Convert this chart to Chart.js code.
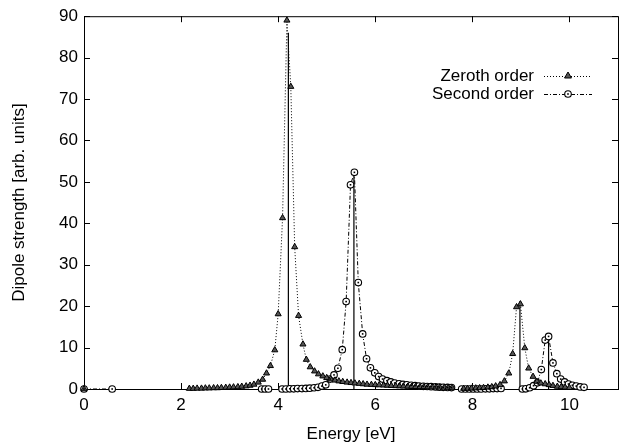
<!DOCTYPE html>
<html>
<head>
<meta charset="utf-8">
<script src="https://cdn.jsdelivr.net/npm/chart.js@4.4.1/dist/chart.umd.min.js"></script>
<style>
body { margin: 0; background: #fff; }
#wrap { width: 624px; height: 446px; }
</style>
</head>
<body>
<div id="wrap"><canvas id="chart"></canvas></div>
<script>
// values, null = break in the curve
const zerothX = [0, null,
    2.17, 2.25, 2.33, 2.42, 2.50, 2.58, 2.67, 2.75, 2.83, 2.92,
    3.00, 3.08, 3.17, 3.25, 3.34, 3.42, 3.50, 3.59, 3.68, 3.76,
    3.84, 3.93, 4.00, 4.09, 4.18, 4.26, 4.34, 4.42, 4.51, 4.58,
    4.66, 4.75, 4.83, 4.92, 5.00, 5.08, 5.17, 5.25, 5.33, 5.42,
    5.50, 5.58, 5.67, 5.75, 5.83, 5.92, 6.00, 6.08, 6.17, 6.25,
    6.33, 6.42, 6.50, 6.58, 6.67, 6.75, 6.83, 6.92, 7.00, 7.08,
    7.17, 7.25, 7.33, 7.42, 7.50, 7.58, null,
    7.82, 7.90, 7.98, 8.07, 8.15, 8.23, 8.32, 8.40, 8.48, 8.57,
    8.66, 8.75, 8.83, 8.91, 8.99, 9.08, 9.16, 9.25, 9.33, 9.41,
    9.50, 9.58, 9.66, 9.75, 9.83, 9.91, 10.0]
const zerothY = [0, null,
    0.1, 0.1, 0.15, 0.15, 0.2, 0.2, 0.25, 0.25, 0.3, 0.35,
    0.4, 0.45, 0.5, 0.6, 0.7, 0.85, 1.1, 1.6, 2.3, 3.8,
    5.6, 9.4, 18.1, 41.3, 89, 73, 34.3, 17.7, 10.8, 7.1,
    5.3, 4.3, 3.6, 3.1, 2.7, 2.4, 2.1, 1.9, 1.75, 1.6,
    1.5, 1.4, 1.3, 1.2, 1.1, 1.05, 1.0, 0.95, 0.9, 0.85,
    0.8, 0.75, 0.7, 0.66, 0.62, 0.58, 0.55, 0.52, 0.5, 0.47,
    0.45, 0.42, 0.4, 0.38, 0.36, 0.34, null,
    0.1, 0.1, 0.15, 0.2, 0.25, 0.3, 0.4, 0.5, 0.7, 1.0,
    1.9, 3.8, 8.5, 19.8, 20.5, 9.9, 5.0, 3.0, 1.8, 1.4,
    1.2, 1.0, 0.8, 0.6, 0.5, 0.4, 0.3]

const secondX = [0, 0.58, null,
    3.66, 3.73, 3.80, null,
    4.08, 4.16, 4.24, 4.32, 4.40, 4.49, 4.57, 4.65, 4.74, 4.82,
    4.90, 4.98, 5.07, 5.15, 5.23, 5.32, 5.40, 5.49, 5.57, 5.65,
    5.74, 5.82, 5.90, 5.99, 6.07, 6.15, 6.24, 6.32, 6.40, 6.49,
    6.57, 6.65, 6.74, 6.82, 6.90, 6.99, 7.07, 7.15, 7.24, 7.32,
    7.40, 7.49, 7.57, null,
    7.78, 7.86, 7.94, 8.02, 8.10, 8.18, 8.27, 8.35, 8.43, 8.51, 8.59, null,
    9.03, 9.10, 9.18, 9.26, 9.34, 9.42, 9.50, 9.57, 9.66, 9.74,
    9.82, 9.90, 9.98, 10.06, 10.14, 10.22, 10.30]
const secondY = [0, 0, null,
    0, 0, 0, null,
    0, 0, 0.05, 0.05, 0.1, 0.1, 0.15, 0.2, 0.3, 0.4,
    0.7, 1.0, 2.4, 3.4, 5.0, 9.5, 21.1, 49.3, 52.3, 25.7,
    13.3, 7.3, 5.1, 3.9, 3.0, 2.4, 2.0, 1.7, 1.45, 1.25,
    1.1, 1.0, 0.9, 0.8, 0.72, 0.65, 0.6, 0.55, 0.5, 0.45,
    0.4, 0.38, 0.35, null,
    0, 0, 0, 0, 0, 0, 0.05, 0.05, 0.1, 0.1, 0.15, null,
    0, 0.05, 0.3, 0.8, 1.5, 4.7, 11.8, 12.7, 6.3, 3.7,
    2.4, 1.7, 1.2, 0.9, 0.7, 0.5, 0.4]

// stick spectrum (solid lines)
const stickX = [4.21, 5.56, 8.98, 9.57]
const stickY = [86, 51.5, 21.2, 12.3]

const seriesLabels = ['Zeroth order', 'Second order']
const xTicks = [0, 2, 4, 6, 8, 10]
const yTicks = [0, 10, 20, 30, 40, 50, 60, 70, 80, 90]

const FONT = '"Liberation Sans", Arial, Helvetica, sans-serif'
Chart.defaults.font.family = FONT
Chart.defaults.font.size = 17
Chart.defaults.color = '#000'

const toPoints = (xs, ys) => {
    let last = 0
    return xs.map((x, i) => {
        if (x === null) return {x: last, y: null}
        last = x
        return {x: x, y: ys[i]}
    })
}

const stickPoints = []
stickX.forEach((x, i) => {
    stickPoints.push({x: x, y: 0}, {x: x, y: stickY[i]}, {x: x, y: null})
})

const dashZeroth = [1, 2]
const dashSecond = [4, 2, 1, 2]
const triFill = '#555'

const drawTriangle = (ctx, x, y, r) => {
    ctx.save()
    ctx.setLineDash([])
    ctx.beginPath()
    ctx.moveTo(x, y - r)
    ctx.lineTo(x + r * 0.87, y + r * 0.5)
    ctx.lineTo(x - r * 0.87, y + r * 0.5)
    ctx.closePath()
    ctx.fillStyle = triFill
    ctx.fill()
    ctx.strokeStyle = '#000'
    ctx.lineWidth = 1
    ctx.stroke()
    ctx.restore()
}

const drawDotCircle = (ctx, x, y) => {
    ctx.save()
    ctx.setLineDash([])
    ctx.beginPath()
    ctx.arc(x, y, 3.3, 0, 2 * Math.PI)
    ctx.fillStyle = '#fff'
    ctx.fill()
    ctx.strokeStyle = '#000'
    ctx.lineWidth = 1.1
    ctx.stroke()
    ctx.fillStyle = '#000'
    ctx.fillRect(x - 0.8, y - 0.8, 1.6, 1.6)
    ctx.restore()
}

const framePlugin = {
    id: 'frame',
    beforeDatasetsDraw(chart) {
        const {ctx, chartArea: a, scales} = chart
        ctx.save()
        ctx.strokeStyle = '#000'
        ctx.lineWidth = 1
        ctx.strokeRect(a.left + 0.5, a.top + 0.5, a.right - a.left, a.bottom - a.top)
        ctx.beginPath()
        xTicks.forEach(v => {
            const px = Math.round(scales.x.getPixelForValue(v)) + 0.5
            ctx.moveTo(px, a.bottom)
            ctx.lineTo(px, a.bottom - 6)
            ctx.moveTo(px, a.top)
            ctx.lineTo(px, a.top + 6)
        })
        yTicks.forEach(v => {
            const py = Math.round(scales.y.getPixelForValue(v)) + 0.5
            ctx.moveTo(a.left, py)
            ctx.lineTo(a.left + 6, py)
            ctx.moveTo(a.right, py)
            ctx.lineTo(a.right - 6, py)
        })
        ctx.stroke()
        ctx.restore()
    },
    afterDatasetsDraw(chart) {
        // dot in the middle of every second-order circle
        const ctx = chart.ctx
        const meta = chart.getDatasetMeta(1)
        ctx.save()
        ctx.fillStyle = '#000'
        meta.data.forEach(pt => {
            if (pt.skip) return
            ctx.fillRect(pt.x - 0.8, pt.y - 0.8, 1.6, 1.6)
        })
        ctx.restore()
    },
    afterDraw(chart) {
        const ctx = chart.ctx
        const rows = [
            {label: seriesLabels[0], y: 76, dash: dashZeroth, mark: 'tri'},
            {label: seriesLabels[1], y: 94, dash: dashSecond, mark: 'circ'}
        ]
        ctx.save()
        ctx.font = '17px ' + FONT
        ctx.textAlign = 'right'
        ctx.textBaseline = 'middle'
        ctx.fillStyle = '#000'
        rows.forEach(r => {
            ctx.fillText(r.label, 534, r.y)
            ctx.beginPath()
            ctx.setLineDash(r.dash)
            ctx.lineWidth = 1
            ctx.strokeStyle = '#000'
            ctx.moveTo(544, r.y + 0.5)
            ctx.lineTo(592, r.y + 0.5)
            ctx.stroke()
            ctx.setLineDash([])
            if (r.mark === 'tri') drawTriangle(ctx, 568, r.y, 4)
            else drawDotCircle(ctx, 568, r.y)
        })
        ctx.restore()
    }
}

const ctx = document.getElementById('chart').getContext('2d')

const config = {
    type: 'scatter',
    data: {
        datasets: [{
            label: seriesLabels[0],
            data: toPoints(zerothX, zerothY),
            showLine: true,
            spanGaps: false,
            borderColor: '#000',
            borderWidth: 1,
            borderDash: dashZeroth,
            pointStyle: 'triangle',
            pointRadius: 3.5,
            pointBackgroundColor: triFill,
            pointBorderColor: '#000',
            pointBorderWidth: 1,
            clip: false
        }, {
            label: seriesLabels[1],
            data: toPoints(secondX, secondY),
            showLine: true,
            spanGaps: false,
            borderColor: '#000',
            borderWidth: 1,
            borderDash: dashSecond,
            pointStyle: 'circle',
            pointRadius: 3.3,
            pointBackgroundColor: '#fff',
            pointBorderColor: '#000',
            pointBorderWidth: 1.1,
            clip: false
        }, {
            label: 'sticks',
            data: stickPoints,
            showLine: true,
            spanGaps: false,
            borderColor: '#000',
            borderWidth: 1.2,
            pointRadius: 0,
            clip: false
        }]
    },
    options: {
        responsive: true,
        maintainAspectRatio: false,
        animation: false,
        layout: {
            padding: {top: 14, right: 6, left: 0, bottom: 0}
        },
        plugins: {
            legend: {display: false},
            tooltip: {enabled: false}
        },
        scales: {
            x: {
                type: 'linear',
                min: 0,
                max: 11,
                afterBuildTicks: s => { s.ticks = xTicks.map(v => ({value: v})) },
                afterFit: s => { s.height = 57 },
                grid: {display: false, drawTicks: false},
                border: {display: false},
                ticks: {padding: 6, maxRotation: 0, autoSkip: false, color: '#000'},
                title: {display: true, text: 'Energy [eV]', color: '#000', padding: {top: 0, bottom: 1}}
            },
            y: {
                type: 'linear',
                min: 0,
                max: 90,
                afterBuildTicks: s => { s.ticks = yTicks.map(v => ({value: v})) },
                afterFit: s => { s.width = 84 },
                grid: {display: false, drawTicks: false},
                border: {display: false},
                ticks: {padding: 6, autoSkip: false, color: '#000'},
                title: {display: true, text: 'Dipole strength [arb. units]', color: '#000', padding: {top: 9, bottom: 0}}
            }
        }
    },
    plugins: [framePlugin]
}

const myChart = new Chart(ctx, config)
</script>
</body>
</html>
